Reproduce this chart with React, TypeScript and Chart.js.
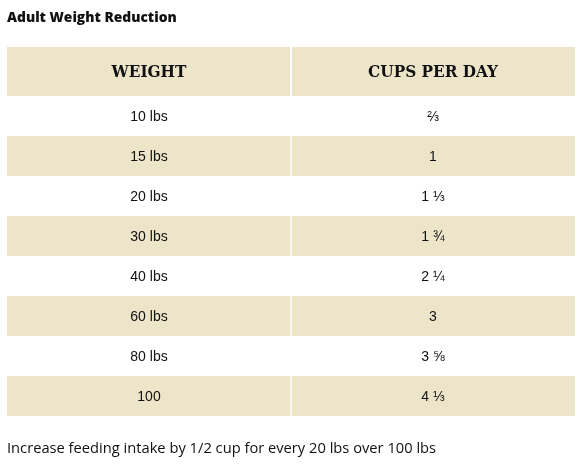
import React, { useEffect, useRef } from "react";
import { Chart, registerables } from "chart.js";

Chart.register(...registerables);

const TITLE = "Adult Weight Reduction";
const FOOTNOTE = "Increase feeding intake by 1/2 cup for every 20 lbs over 100 lbs";
const COLUMN_HEADERS = ["WEIGHT", "CUPS PER DAY"];
const WEIGHTS = ["10 lbs", "15 lbs", "20 lbs", "30 lbs", "40 lbs", "60 lbs", "80 lbs", "100"];
const CUPS = ["⅔", "1", "1 ⅓", "1 ¾", "2 ¼", "3", "3 ⅝", "4 ⅓"];

const BEIGE = "#EDE5CA";
const WHITE = "#FFFFFF";
const TEXT = "#111111";

const rowColors = WEIGHTS.map((_, i) => (i % 2 === 1 ? BEIGE : WHITE));

const tablePlugin = {
  id: "tableText",
  beforeDatasetsDraw(chart: any) {
    const { ctx, chartArea, scales } = chart;
    const x = scales.x;
    const top = chartArea.top - 49;
    ctx.save();
    ctx.fillStyle = BEIGE;
    ctx.fillRect(x.getPixelForValue(0), top, x.getPixelForValue(1) - x.getPixelForValue(0) - 1, chartArea.top - top);
    ctx.fillRect(x.getPixelForValue(1) + 1, top, x.getPixelForValue(2) - x.getPixelForValue(1) - 1, chartArea.top - top);
    ctx.fillStyle = TEXT;
    ctx.font = "bold 17px 'DejaVu Serif Condensed', 'DejaVu Serif'";
    ctx.textAlign = "center";
    ctx.textBaseline = "middle";
    const hy = (top + chartArea.top) / 2 + 1;
    ctx.fillText(COLUMN_HEADERS[0], x.getPixelForValue(0.5), hy);
    ctx.fillText(COLUMN_HEADERS[1], x.getPixelForValue(1.5), hy);
    ctx.restore();
  },
  afterDatasetsDraw(chart: any) {
    const { ctx, scales } = chart;
    const x = scales.x;
    const y = scales.y;
    ctx.save();
    ctx.fillStyle = TEXT;
    ctx.font = "14px 'Liberation Sans'";
    ctx.textAlign = "center";
    ctx.textBaseline = "middle";
    WEIGHTS.forEach((w, i) => {
      const py = y.getPixelForValue(i) + 1;
      ctx.fillText(w, x.getPixelForValue(0.5), py);
      ctx.fillText(CUPS[i], x.getPixelForValue(1.5), py);
    });
    ctx.restore();
  },
};

export default function App() {
  const ref = useRef<HTMLCanvasElement>(null);
  useEffect(() => {
    if (!ref.current) return;
    const chart = new Chart(ref.current, {
      type: "bar",
      data: {
        labels: WEIGHTS,
        datasets: [
          {
            label: COLUMN_HEADERS[0],
            data: WEIGHTS.map(() => [0, 1]) as any,
            backgroundColor: rowColors,
            borderColor: WHITE,
            borderWidth: { top: 0, bottom: 0, left: 0, right: 1 },
            borderSkipped: false,
            grouped: false,
          },
          {
            label: COLUMN_HEADERS[1],
            data: CUPS.map(() => [1, 2]) as any,
            backgroundColor: rowColors,
            borderColor: WHITE,
            borderWidth: { top: 0, bottom: 0, left: 1, right: 0 },
            borderSkipped: false,
            grouped: false,
          },
        ],
      },
      options: {
        indexAxis: "y",
        animation: false,
        responsive: false,
        events: [],
        layout: { padding: { left: 7, right: 13, top: 0, bottom: 0 } },
        datasets: { bar: { barPercentage: 1, categoryPercentage: 1 } },
        scales: {
          x: { type: "linear", min: 0, max: 2, display: false },
          y: { type: "category", display: false, offset: true },
        },
        plugins: {
          legend: { display: false },
          tooltip: { enabled: false },
          title: {
            display: true,
            text: TITLE,
            align: "start",
            color: TEXT,
            font: { family: "'Open Sans'", size: 13.8, weight: "800", lineHeight: 1.2 },
            padding: { top: 9.8, bottom: 69.6 },
          },
          subtitle: {
            display: true,
            text: FOOTNOTE,
            position: "bottom",
            align: "start",
            color: TEXT,
            font: { family: "'Open Sans'", size: 14.7, weight: "normal", lineHeight: 1.2 },
            padding: { top: 24.4, bottom: 8 },
          },
        },
      },
      plugins: [tablePlugin],
    } as any);
    return () => chart.destroy();
  }, []);
  return (
    <div style={{ position: "fixed", left: 0, top: 0, width: 588, height: 466, background: "#fff" }}>
      <canvas ref={ref} width={588} height={466} style={{ display: "block" }} />
    </div>
  );
}
